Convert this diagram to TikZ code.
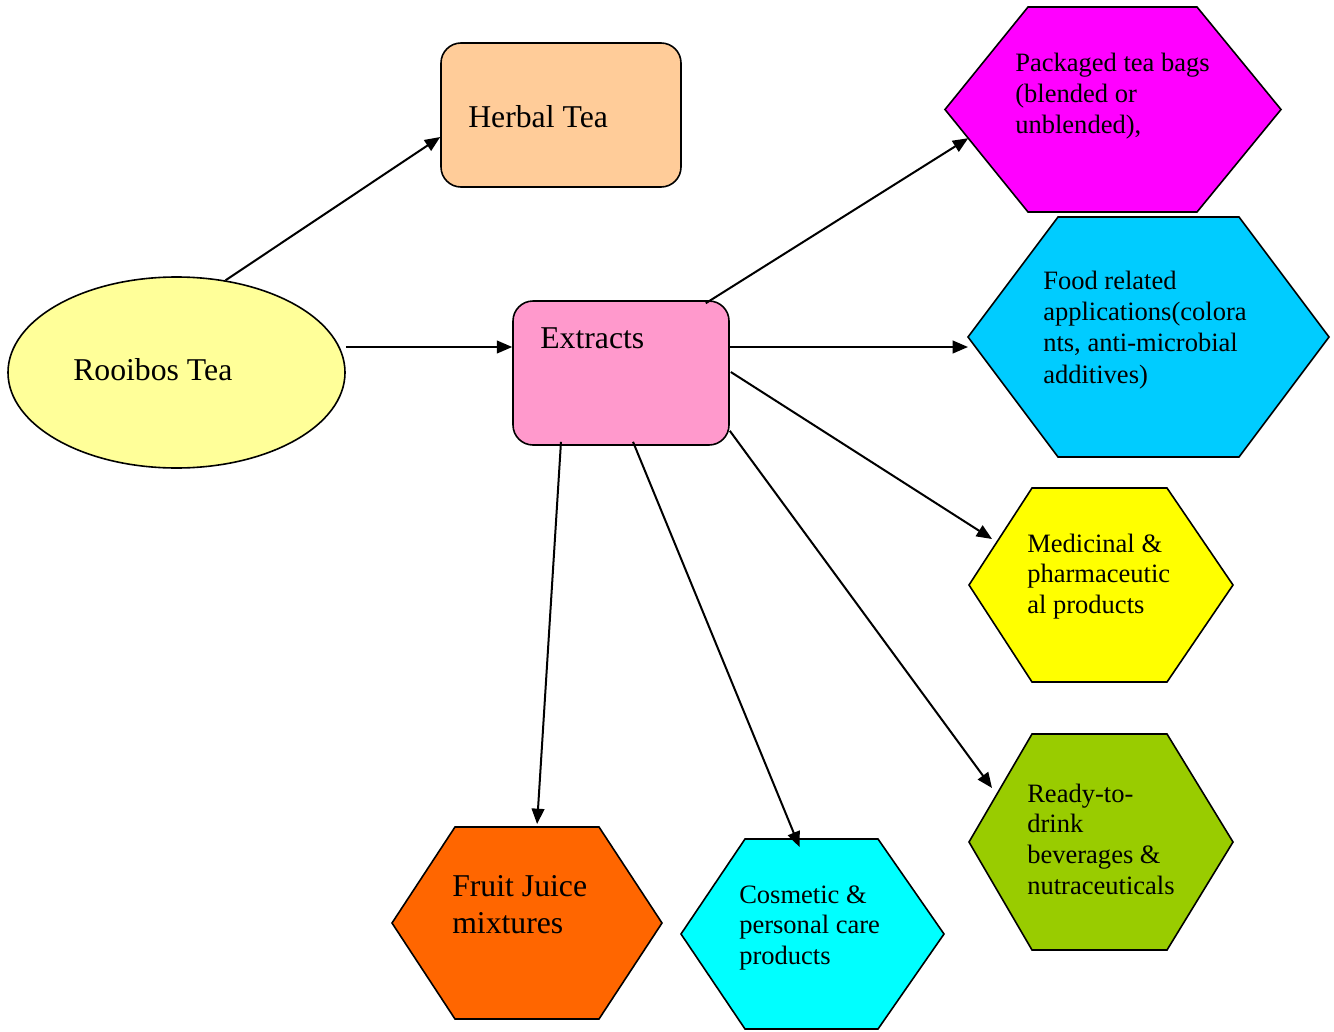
\documentclass[tikz,border=0pt]{standalone}
\usepackage{fontspec}
\setmainfont{Liberation Serif}
\usetikzlibrary{shapes.geometric,arrows.meta,calc}
\definecolor{cRooibos}{HTML}{FFFF99}
\definecolor{cHerbal}{HTML}{FFCC99}
\definecolor{cExtract}{HTML}{FF99CC}
\definecolor{cPack}{HTML}{FF00FF}
\definecolor{cFood}{HTML}{00CCFF}
\definecolor{cMed}{HTML}{FFFF00}
\definecolor{cReady}{HTML}{99CC00}
\definecolor{cFruit}{HTML}{FF6600}
\definecolor{cCos}{HTML}{00FFFF}
\newcommand\mylines[1]{\begin{tabular}[t]{@{}l@{}}#1\end{tabular}}
\newcommand\hexshape[8]{%
  \path (#3,{(#7+#8)/2}) coordinate (#1-w) (#4,#7) coordinate (#1-nw)
        (#5,#7) coordinate (#1-ne) (#6,{(#7+#8)/2}) coordinate (#1-e)
        (#5,#8) coordinate (#1-se) (#4,#8) coordinate (#1-sw);
  \draw[hexline,fill=#2] (#1-w)--(#1-nw)--(#1-ne)--(#1-e)--(#1-se)--(#1-sw)--cycle;}
\begin{document}
\begin{tikzpicture}[x=0.75pt,y=-0.75pt,
  hexline/.style={draw=black,line width=1.2pt,line join=miter},
  boxshape/.style={draw=black,line width=1.2pt,rounded corners=15pt,inner sep=0pt},
  arr/.style={line width=1.5pt,-{Triangle[length=11.5pt,width=9.5pt]}},
  bigtxt/.style={anchor=base west,inner sep=0pt,font=\fontsize{23.8}{28}\selectfont},
  smalltxt/.style={anchor=base west,inner sep=0pt,font=\fontsize{19.9}{23}\selectfont}]
\useasboundingbox (0,0) rectangle (1334,1031);

% shapes
\node[draw=black,line width=1.2pt,fill=cRooibos,ellipse,inner sep=0pt,
  minimum width=252.75pt,minimum height=143.25pt] (rooibos) at (176.5,372.5) {};
\node[boxshape,fill=cHerbal,minimum width=180pt,minimum height=108pt] (herbal) at (561,115) {};
\node[boxshape,fill=cExtract,minimum width=162pt,minimum height=108pt] (extracts) at (621,373) {};

\hexshape{pack}{cPack}{945}{1028}{1197}{1281}{7}{212}
\hexshape{food}{cFood}{968}{1058}{1239}{1329}{217}{457}
\hexshape{med}{cMed}{969}{1032}{1167}{1233}{488}{682}
\hexshape{ready}{cReady}{969}{1032}{1167}{1233}{734}{950}
\hexshape{fruit}{cFruit}{392}{455}{599}{662}{827}{1019}
\hexshape{cos}{cCos}{681}{745}{878}{944}{839}{1029}

% texts
\node[bigtxt] (t-rooibos) at (73,380) {Rooibos Tea};
\node[bigtxt] (t-herbal) at (468,127) {Herbal Tea};
\node[bigtxt] (t-extracts) at (540,348) {Extracts};
\node[smalltxt] (t-pack) at (1015,72) {\mylines{Packaged tea bags\\(blended or\\unblended),}};
\node[smalltxt,font=\fontsize{19.9}{23.6}\selectfont] (t-food) at (1043,289) {\mylines{Food related\\applications(colora\\nts, anti-microbial\\additives)}};
\node[smalltxt] (t-med) at (1027,552) {\mylines{Medicinal \&\\pharmaceutic\\al products}};
\node[smalltxt] (t-ready) at (1027,802) {\mylines{Ready-to-\\drink\\beverages \&\\nutraceuticals}};
\node[bigtxt] (t-fruit) at (452,896) {\mylines{Fruit Juice\\mixtures}};
\node[smalltxt] (t-cos) at (739,903) {\mylines{Cosmetic \&\\personal care\\products}};

% connectors
\draw[arr] (rooibos.62) -- (herbal.west |- 0,137);
\draw[arr] (rooibos.east |- 0,347) -- (extracts.west |- 0,347);
\draw[arr] ($(extracts.north east)+(-24,3)$) -- ($(pack-w)!0.28!(pack-sw)$);
\draw[arr] (extracts.east |- 0,347) -- (food-w |- 0,347);
\draw[arr] ($(extracts.east)+(1,-1)$) -- ($(med-w)+(23,-46)$);
\draw[arr] ($(extracts.south east)+(0,-15)$) -- ($(ready-w)+(23,-54)$);
\draw[arr] ($(extracts.south)+(12,-4)$) -- ($(cos-nw)!0.41!(cos-ne)+(0,8)$);
\draw[arr] ($(extracts.south)+(-60,-4)$) -- ($(fruit-nw)!0.57!(fruit-ne)+(0,-3)$);
\end{tikzpicture}
\end{document}
